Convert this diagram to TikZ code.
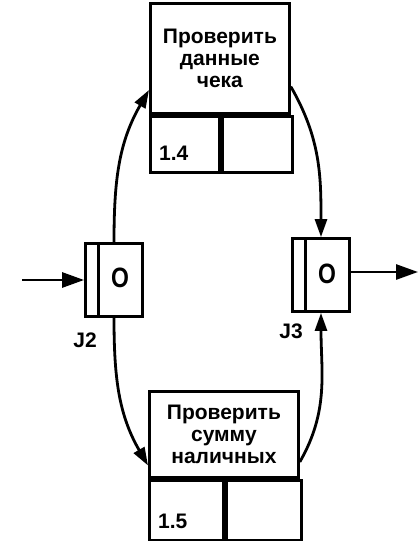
\documentclass[tikz,border=0pt]{standalone}
\usepackage{fontspec}
\setmainfont{Liberation Sans}
\usetikzlibrary{arrows.meta,calc}

\begin{document}
\begin{tikzpicture}[
    x=1pt, y=-1pt,
    >={Triangle[length=22pt,width=15pt]},
    every node/.style={font=\bfseries\fontsize{21}{22}\selectfont, inner sep=0pt},
    procbox/.style={draw, line width=2.8pt, align=center, anchor=north west},
    cellbox/.style={draw, line width=2.8pt, anchor=north west},
    jbox/.style={draw, line width=2.8pt, minimum width=57pt, minimum height=73pt},
    jmark/.style={font=\bfseries\fontsize{28}{28}\selectfont},
    curvelink/.style={->, >={Triangle[length=18pt,width=12pt]}, line width=2.8pt},
    flow/.style={->, line width=2.8pt},
  ]

  % page frame, same size as the scan (pixels = pt)
  \useasboundingbox (0,0) rectangle (419,541);

  % ------------------------------------------------------------------
  % Unit of work 1.4 (top)
  % ------------------------------------------------------------------
  \node[procbox, minimum width=139pt, minimum height=110pt]
       (chk) at (149,2) {Проверить\\данные\\чека};
  \node[cellbox, minimum width=69pt, minimum height=56pt]
       (chkid) at (chk.south west) {};
  \node[cellbox, minimum width=70pt, minimum height=56pt]
       (chkx) at (chkid.north east) {};
  \node[anchor=base west] (chknum) at ($(chkid.south west)+(10,-13)$) {1.4};

  % ------------------------------------------------------------------
  % Unit of work 1.5 (bottom)
  % ------------------------------------------------------------------
  \node[procbox, minimum width=149pt, minimum height=86pt]
       (sum) at (148,390) {Проверить\\сумму\\наличных};
  \node[cellbox, minimum width=74pt, minimum height=60pt]
       (sumid) at (sum.south west) {};
  \node[cellbox, minimum width=75pt, minimum height=60pt]
       (sumx) at (sumid.north east) {};
  \node[anchor=base west] (sumnum) at ($(sumid.south west)+(10,-13)$) {1.5};

  % ------------------------------------------------------------------
  % OR junctions J2 (fan-out) and J3 (fan-in)
  % ------------------------------------------------------------------
  \node[jbox] (J2) at (114,280) {};
  \draw[line width=2.8pt] ($(J2.north west)+(14,0)$) -- ($(J2.south west)+(14,0)$);
  \node[jmark] (J2o) at ($(J2.center)+(6,-2)$) {\scalebox{0.82}[1]{O}};
  \node[anchor=north] (J2lbl) at ($(J2.south west)+(1,15)$) {J2};

  \node[jbox] (J3) at (321,275) {};
  \draw[line width=2.8pt] ($(J3.north west)+(14,0)$) -- ($(J3.south west)+(14,0)$);
  \node[jmark] (J3o) at ($(J3.center)+(6,-1)$) {\scalebox{0.82}[1]{O}};
  \node[anchor=north] (J3lbl) at ($(J3.south west)+(0,11)$) {J3};

  % ------------------------------------------------------------------
  % Links
  % ------------------------------------------------------------------
  \coordinate (src) at (22,280);
  \coordinate (dst) at (418,272);

  \draw[flow] (src) -- (J2.west);
  \draw[flow] (J3.east |- dst) -- (dst);

  \draw[curvelink] (J2.north) to[out=90, in=240]
       ($(chk.south west)!0.22!(chk.north west)$);
  \draw[curvelink] ($(chk.south east)!0.25!(chk.north east)$)
       to[out=-60, in=90] (J3.north);

  \draw[curvelink] (J2.south) to[out=-90, in=120]
       ($(sum.south west)!0.15!(sum.north west)$);
  \draw[curvelink] ($(sum.south east)!0.19!(sum.north east)$)
       to[out=60, in=-90] (J3.south);

\end{tikzpicture}
\end{document}
